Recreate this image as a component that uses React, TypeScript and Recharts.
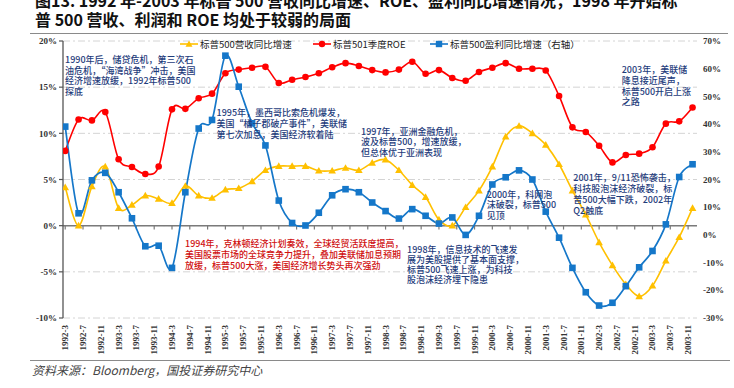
import React from 'react';
import { LineChart, Line, XAxis, YAxis, CartesianGrid, ReferenceLine } from 'recharts';

// ---------------- data ----------------
const quarters = [
  '1992-3', '1992-6', '1992-9', '1992-12',
  '1993-3', '1993-6', '1993-9', '1993-12',
  '1994-3', '1994-6', '1994-9', '1994-12',
  '1995-3', '1995-6', '1995-9', '1995-12',
  '1996-3', '1996-6', '1996-9', '1996-12',
  '1997-3', '1997-6', '1997-9', '1997-12',
  '1998-3', '1998-6', '1998-9', '1998-12',
  '1999-3', '1999-6', '1999-9', '1999-12',
  '2000-3', '2000-6', '2000-9', '2000-12',
  '2001-3', '2001-6', '2001-9', '2001-12',
  '2002-3', '2002-6', '2002-9', '2002-12',
  '2003-3', '2003-6', '2003-9', '2003-12',
];

// 标普500营收同比增速 (left axis, %)
const revenueGrowth = [
  4.15, 0.0, 4.25, 6.4, 1.9, 2.25, 3.25, 2.9, 2.45, 4.3, 3.25, 3.0, 3.9, 4.05, 4.8, 6.0,
  6.45, 6.45, 6.45, 5.95, 5.95, 6.25, 6.0, 6.8, 7.15, 6.0, 4.4, 3.1, 0.65, 0.0, 2.0, 3.8,
  6.4, 9.65, 10.8, 10.0, 8.75, 6.65, 3.8, 1.2, -1.8, -4.3, -6.35, -7.65, -6.5, -3.8, -1.25, 1.9,
];

// 标普501季度ROE (left axis, %)
const roe = [
  8.1, 11.5, 11.4, 12.3, 7.2, 6.35, 5.6, 6.4, 12.6, 12.65, 13.8, 14.3, 16.5, 16.9, 17.1, 17.2,
  15.45, 15.8, 16.1, 16.5, 17.15, 17.6, 17.3, 16.85, 16.6, 16.9, 17.75, 16.45, 16.85, 16.0, 15.7, 16.65,
  17.1, 17.6, 17.0, 17.0, 16.8, 14.05, 10.65, 10.15, 8.65, 6.85, 7.65, 7.8, 8.5, 11.05, 11.3, 12.8,
];

// 标普500盈利同比增速 (right axis, %)
const profitGrowth = [
  39.1, 7.8, 19.7, 22.4, 15.4, 6.0, -4.1, -3.9, -11.9, 15.4, 38.4, 41.5, 64.7, 53.5, 40.3, 32.3,
  12.4, 4.3, 3.4, 8.0, 14.3, 16.5, 15.4, 11.7, 8.6, 5.9, 9.3, 6.9, 4.1, 6.3, 0.0, 6.9,
  18.2, 20.8, 23.3, 20.0, 8.4, -1.0, -11.9, -20.7, -25.5, -24.5, -18.5, -11.7, -5.8, 3.8, 20.9, 25.5,
];

const xTickLabels = [
  '1992-3', '1992-7', '1992-11', '1993-3', '1993-7', '1993-11',
  '1994-3', '1994-7', '1994-11', '1995-3', '1995-7', '1995-11',
  '1996-3', '1996-7', '1996-11', '1997-3', '1997-7', '1997-11',
  '1998-3', '1998-7', '1998-11', '1999-3', '1999-7', '1999-11',
  '2000-3', '2000-7', '2000-11', '2001-3', '2001-7', '2001-11',
  '2002-3', '2002-7', '2002-11', '2003-3', '2003-7', '2003-11',
];

const leftTicks = [-10, -5, 0, 5, 10, 15, 20];
const rightTicks = [-30, -20, -10, 0, 10, 20, 30, 40, 50, 60, 70];

const seriesNames = ['标普500营收同比增速', '标普501季度ROE', '标普500盈利同比增速（右轴）'];

const titleLines = [
  '图13. 1992 年-2003 年标普 500 营收同比增速、ROE、盈利同比增速情况，1998 年开始标',
  '普 500 营收、利润和 ROE 均处于较弱的局面',
];

const sourceText = '资料来源：Bloomberg，国投证券研究中心';

const notes = [
  { lines: ['1990年后，储贷危机，第三次石', '油危机，“海湾战争”冲击，美国', '经济增速放缓，1992年标普500', '探底'], x: 65, y: 55.2, lh: 10.6, red: false },
  { lines: ['1995年，墨西哥比索危机爆发，', '美国“橘子郡破产事件”，美联储', '第七次加息，美国经济软着陆'], x: 216.5, y: 106.8, lh: 11, red: false },
  { lines: ['1997年，亚洲金融危机，', '波及标普500，增速放缓，', '但总体优于亚洲表现'], x: 361, y: 126.6, lh: 10.8, red: false },
  { lines: ['1994年，克林顿经济计划奏效，全球经贸活跃度提高，', '美国股票市场的全球竞争力提升，叠加美联储加息预期', '放缓，标普500大涨，美国经济增长势头再次强劲'], x: 185, y: 239.2, lh: 10.9, red: true },
  { lines: ['1998年，信息技术的飞速发', '展为美股提供了基本面支撑，', '标普500飞速上涨，为科技', '股泡沫经济埋下隐患'], x: 407, y: 245.2, lh: 9.9, red: false },
  { lines: ['2000年，科网泡', '沫破裂，标普500', '见顶'], x: 486.7, y: 189.8, lh: 10.4, red: false },
  { lines: ['2001年，9/11恐怖袭击，', '科技股泡沫经济破裂，标', '普500大幅下跌，2002年', 'Q2触底'], x: 573.3, y: 171.5, lh: 11, red: false },
  { lines: ['2003年，美联储', '降息接近尾声，', '标普500开启上涨', '之路'], x: 621.7, y: 65.4, lh: 10.6, red: false },
];

// ---------------- helpers ----------------
const monthIndex = (s: string) => {
  const [y, mo] = s.split('-').map(Number);
  return (y - 1992) * 12 + (mo - 3);
};

const data = quarters.map((q, i) => ({
  m: monthIndex(q),
  label: q,
  rev: revenueGrowth[i],
  roe: roe[i],
  profit: profitGrowth[i],
}));

const xTicks = xTickLabels.map(monthIndex);
const xLabelOf: Record<number, string> = {};
xTickLabels.forEach((l) => { xLabelOf[monthIndex(l)] = l; });

// Excel-like smoothed line (Catmull-Rom)
function excelSmooth(context: any) {
  let pts: number[][] = [];
  return {
    areaStart() {},
    areaEnd() {},
    lineStart() { pts = []; },
    point(x: number, y: number) { pts.push([+x, +y]); },
    lineEnd() {
      const n = pts.length;
      if (!n) return;
      context.moveTo(pts[0][0], pts[0][1]);
      for (let i = 0; i < n - 1; i++) {
        const p0 = pts[i - 1] || pts[i];
        const p1 = pts[i];
        const p2 = pts[i + 1];
        const p3 = pts[i + 2] || p2;
        context.bezierCurveTo(
          p1[0] + (p2[0] - p0[0]) / 6, p1[1] + (p2[1] - p0[1]) / 6,
          p2[0] - (p3[0] - p1[0]) / 6, p2[1] - (p3[1] - p1[1]) / 6,
          p2[0], p2[1],
        );
      }
    },
  };
}

const RED = '#FF0000';
const YELLOW = '#FFC000';
const BLUE = '#1577C9';
const NAVY = '#1F3D7C';
const DARKRED = '#D01010';

const CircleDot = (p: any) => {
  if (p.cx == null || p.cy == null) return <g key={p.index} />;
  return <circle key={p.index} cx={p.cx} cy={p.cy} r={3.3} fill={RED} />;
};
const SquareDot = (p: any) => {
  if (p.cx == null || p.cy == null) return <g key={p.index} />;
  return <rect key={p.index} x={p.cx - 3.3} y={p.cy - 3.3} width={6.6} height={6.6} fill={BLUE} />;
};
const TriDot = (p: any) => {
  if (p.cx == null || p.cy == null) return <g key={p.index} />;
  const s = 3.8;
  return (
    <path key={p.index} d={`M${p.cx},${p.cy - s}L${p.cx + s},${p.cy + s * 0.75}L${p.cx - s},${p.cy + s * 0.75}Z`} fill={YELLOW} />
  );
};

const XTick = (p: any) => {
  const { x, y, payload } = p;
  return (
    <g transform={`translate(${x},${y - 1}) rotate(-90)`}>
      <text x={0} y={0} dy="0.33em" textAnchor="end" fontSize={9} fontWeight="bold" fontFamily="'Liberation Serif', serif" fill="#333">
        {xLabelOf[payload.value] ?? ''}
      </text>
    </g>
  );
};

const cjk = "'Noto Sans CJK SC', 'Noto Sans', sans-serif";

const LegendIcon = ({ kind }: { kind: number }) => {
  const color = [YELLOW, RED, BLUE][kind];
  return (
    <svg width={18} height={10} style={{ display: 'block' }}>
      <line x1={0} y1={5} x2={18} y2={5} stroke={color} strokeWidth={1.6} />
      {kind === 0 && <path d="M9,1.5L12.5,7.8L5.5,7.8Z" fill={color} />}
      {kind === 1 && <circle cx={9} cy={5} r={3.2} fill={color} />}
      {kind === 2 && <rect x={5.8} y={1.8} width={6.4} height={6.4} fill={color} />}
    </svg>
  );
};

const legendX = [180, 313, 430];

export default function App() {
  return (
    <div style={{ position: 'fixed', left: 0, top: 0, width: 734, height: 388, background: '#fff', overflow: 'hidden' }}>
      {/* title */}
      <div style={{ position: 'absolute', left: 35, top: -9, fontFamily: cjk, fontWeight: 'bold', fontSize: 16, lineHeight: '19px', whiteSpace: 'nowrap', color: '#111' }}>
        {titleLines.map((t, i) => (
          <React.Fragment key={i}>{i > 0 && <br />}{t}</React.Fragment>
        ))}
      </div>
      {/* frame lines */}
      <div style={{ position: 'absolute', left: 30, top: 32.5, width: 698, height: 0, borderTop: '1.5px solid #8a8a8a' }} />
      <div style={{ position: 'absolute', left: 30, top: 360, width: 700, height: 0, borderTop: '1.5px solid #8a8a8a' }} />

      <div style={{ position: 'absolute', left: 0, top: 0 }}>
        <LineChart width={734} height={388} data={data} margin={{ top: 41, right: 0, bottom: 30, left: 23 }}>
          <CartesianGrid yAxisId="L" vertical={false} stroke="#d4d4d4" strokeDasharray="7 3 2 3" />
          <XAxis
            type="number"
            dataKey="m"
            domain={[-0.5, 142]}
            ticks={xTicks}
            interval={0}
            height={40}
            axisLine={false}
            tickLine={false}
            tick={<XTick />}
            allowDataOverflow
          />
          <YAxis
            yAxisId="L"
            domain={[-10, 20]}
            ticks={leftTicks}
            interval={0}
            width={40}
            axisLine={{ stroke: '#555', strokeWidth: 1.3 }}
            tickLine={{ stroke: '#555', strokeWidth: 1.2 }}
            tickSize={4}
            tickMargin={2}
            tick={{ fontSize: 9, fontWeight: 'bold', fontFamily: "'Liberation Serif', serif", fill: '#333' }}
            tickFormatter={(v: number) => `${v}%`}
          />
          <YAxis
            yAxisId="R"
            orientation="right"
            domain={[-30, 70]}
            ticks={rightTicks}
            interval={0}
            width={37}
            axisLine={false}
            tickLine={false}
            tickSize={4}
            tickMargin={2}
            tick={{ fontSize: 9, fontWeight: 'bold', fontFamily: "'Liberation Serif', serif", fill: '#333', textAnchor: 'start' }}
            tickFormatter={(v: number) => `${v}%`}
          />
          <ReferenceLine yAxisId="L" y={0} stroke="#7a7a7a" strokeWidth={1.5} />
          {xTicks.map((m) => (
            <ReferenceLine key={m} yAxisId="L" segment={[{ x: m, y: 0 }, { x: m, y: -0.42 }]} stroke="#7a7a7a" strokeWidth={1.2} />
          ))}
          <Line yAxisId="L" dataKey="rev" name={seriesNames[0]} stroke={YELLOW} strokeWidth={1.6} type={excelSmooth as any} dot={TriDot} activeDot={false} isAnimationActive={false} />
          <Line yAxisId="L" dataKey="roe" name={seriesNames[1]} stroke={RED} strokeWidth={1.6} type={excelSmooth as any} dot={CircleDot} activeDot={false} isAnimationActive={false} />
          <Line yAxisId="R" dataKey="profit" name={seriesNames[2]} stroke={BLUE} strokeWidth={1.7} type={excelSmooth as any} dot={SquareDot} activeDot={false} isAnimationActive={false} />
        </LineChart>
      </div>

      {/* legend */}
      {seriesNames.map((n, i) => (
        <div key={n} style={{ position: 'absolute', left: legendX[i], top: 37.5, display: 'flex', alignItems: 'center', fontFamily: cjk, fontSize: 9.5, lineHeight: '12px', color: '#222', whiteSpace: 'nowrap' }}>
          <LegendIcon kind={i} />
          <span style={{ marginLeft: 2 }}>{n}</span>
        </div>
      ))}

      {/* annotations */}
      {notes.map((nt, i) => (
        <div key={i} style={{ position: 'absolute', left: nt.x, top: nt.y, fontFamily: cjk, fontSize: 9, lineHeight: `${nt.lh}px`, color: nt.red ? DARKRED : NAVY, whiteSpace: 'nowrap', fontWeight: 500 }}>
          {nt.lines.map((l, j) => (
            <React.Fragment key={j}>{j > 0 && <br />}{l}</React.Fragment>
          ))}
        </div>
      ))}

      {/* source */}
      <div style={{ position: 'absolute', left: 32, top: 362, fontFamily: cjk, fontStyle: 'italic', fontSize: 12, lineHeight: '16px', color: '#444', whiteSpace: 'nowrap' }}>{sourceText}</div>
    </div>
  );
}
